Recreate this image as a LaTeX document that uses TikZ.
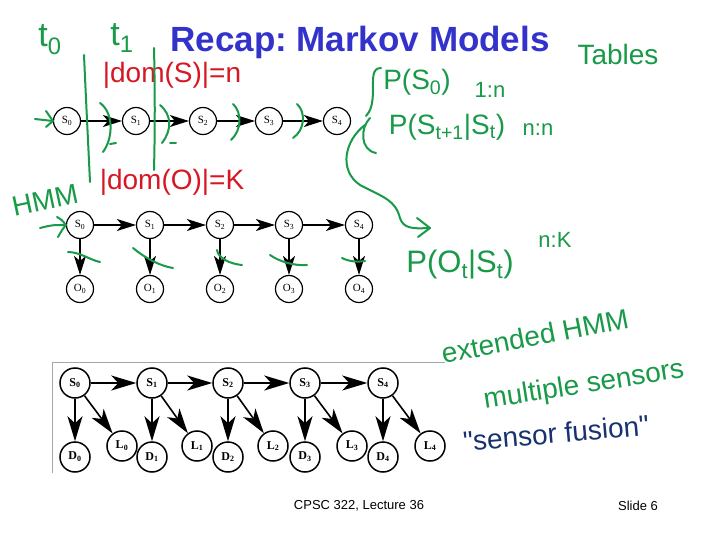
\documentclass[tikz,border=0pt]{standalone}
\usepackage{fontspec}
\setmainfont{Liberation Serif}
\newfontfamily\arialf{Liberation Sans}
\newfontfamily\handf{Liberation Sans}
\usetikzlibrary{arrows.meta}
\definecolor{titleblue}{RGB}{51,51,204}
\definecolor{hgreen}{RGB}{24,154,72}
\definecolor{hred}{RGB}{214,24,36}
\definecolor{hnavy}{RGB}{24,50,110}
\frenchspacing
\begin{document}
\begin{tikzpicture}[x=1pt,y=-1pt,
  snode/.style={circle,draw,line width=1.2pt,minimum size=27pt,inner sep=0pt,font=\fontsize{11}{11}\selectfont},
  bnode/.style={circle,draw,line width=1.5pt,minimum size=30pt,inner sep=0pt,font=\bfseries\fontsize{12}{12}\selectfont},
  arr/.style={line width=1.2pt,-{Stealth[length=19pt,width=12pt,inset=5pt]}},
  barr/.style={line width=1.6pt,-{Stealth[length=25pt,width=15pt,inset=7pt]}},
  ink/.style={hgreen,line width=2pt,line cap=round,line join=round},
  hand/.style={inner sep=0pt,font=\handf\fontsize{28}{28}\selectfont},
  handS/.style={inner sep=0pt,font=\handf\fontsize{22}{22}\selectfont},
]
\useasboundingbox[fill=white] (0,0) rectangle (720,540);

% title and footer
\node[font=\arialf\bfseries\fontsize{35}{35}\selectfont,text=titleblue,anchor=base] (title) at (360,52) {Recap: Markov Models};
\node[font=\arialf\fontsize{13}{13}\selectfont] (foot) at (359,506) {CPSC 322, Lecture 36};
\node[font=\arialf\fontsize{13}{13}\selectfont] (slide) at (638,506) {Slide 6};

% Markov chain
\foreach \i/\x in {0/67,1/136,2/203,3/269,4/337}
  \node[snode] (a\i) at (\x,121) {S\textsubscript{\i}};
\foreach \i/\j in {0/1,1/2,2/3,3/4}
  \draw[arr] (a\i) -- (a\j);

% HMM
\foreach \i/\x in {0/80,1/150,2/220,3/289,4/359}{
  \node[snode] (b\i) at (\x,225) {S\textsubscript{\i}};
  \node[snode] (o\i) at (\x,289) {O\textsubscript{\i}};
  \draw[arr] (b\i) -- (o\i);
}
\foreach \i/\j in {0/1,1/2,2/3,3/4}
  \draw[arr] (b\i) -- (b\j);

% extended HMM
\draw[gray!70,line width=0.6pt] (445,362) -- (52,362) -- (52,473);
\foreach \i/\x/\l in {0/75/122,1/152/197,2/228/273,3/305/352,4/383/430}{
  \node[bnode] (c\i) at (\x,383) {S\textsubscript{\i}};
  \node[bnode] (d\i) at (\x,457) {D\textsubscript{\i}};
  \node[bnode] (l\i) at (\l,446) {L\textsubscript{\i}};
  \draw[barr] (c\i) -- (d\i);
  \draw[barr] (c\i) -- (l\i);
}
\foreach \i/\j in {0/1,1/2,2/3,3/4}
  \draw[barr] (c\i) -- (c\j);

% handwritten annotations
\node[inner sep=0pt,font=\handf\fontsize{34}{34}\selectfont,text=hgreen] (t0) at (50,40) {t\textsubscript{0}};
\node[inner sep=0pt,font=\handf\fontsize{34}{34}\selectfont,text=hgreen] (t1) at (122,38) {t\textsubscript{1}};
\node[hand,text=hred] (domS) at (172,75) {|dom(S)|=n};
\node[hand,text=hred] (domO) at (172,182) {|dom(O)|=K};
\node[hand,text=hgreen,rotate=12] (hmm) at (45,200) {HMM};
\node[hand,text=hgreen] (tables) at (618,54) {Tables};
\node[hand,text=hgreen] (ps0) at (417,82) {P(S\textsubscript{0})};
\node[handS,text=hgreen] (r1) at (490,90) {1:n};
\node[hand,text=hgreen] (pst) at (447,127) {P(S\textsubscript{t+1}|S\textsubscript{t})};
\node[handS,text=hgreen] (r2) at (538,130) {n:n};
\node[inner sep=0pt,font=\handf\fontsize{31}{31}\selectfont,text=hgreen] (pot) at (460,265) {P(O\textsubscript{t}|S\textsubscript{t})};
\node[handS,text=hgreen] (r3) at (555,240) {n:K};
\node[hand,text=hgreen,rotate=11] (ext) at (535,336) {extended HMM};
\node[hand,text=hgreen,rotate=9] (mult) at (584,386) {multiple sensors};
\node[hand,text=hnavy,rotate=5] (fus) at (556,433) {"sensor fusion"};

% time slice lines
\draw[ink] (84,55) .. controls (86,100) and (88,140) .. (90,182);
\draw[ink] (154,48) .. controls (155,90) and (155,130) .. (154,170);
% marks on chain arrows
\draw[ink] (100,103) .. controls (113,112) and (114,137) .. (103,152);
\draw[ink] (110,144) -- (116,143);
\draw[ink] (160,105) .. controls (172,115) and (172,130) .. (162,143);
\draw[ink] (170,143) -- (176,143);
\draw[ink] (233,104) .. controls (242,112) and (242,130) .. (231,140);
\draw[ink] (297,104) .. controls (306,112) and (305,130) .. (293,138);
% start arrows
\coordinate (sa) at (35,119);
\draw[ink] (sa) -- (a0.west);
\draw[ink] (46,111) -- (a0.west) -- (46,127);
\coordinate (sb) at (40,228);
\draw[ink] (sb) .. controls (52,225) .. (b0.west);
\draw[ink] (57,217) .. controls (62,220) .. (b0.west) .. controls (62,230) .. (58,237);
% ticks on emission arrows
\draw[ink] (68,252) .. controls (80,252) and (90,260) .. (100,262);
\draw[ink] (133,248) .. controls (145,258) and (160,266) .. (173,268);
\draw[ink] (217,250) .. controls (218,258) and (230,264) .. (242,265);
\draw[ink] (270,255) .. controls (280,262) and (295,266) .. (307,265);
\draw[ink] (342,258) .. controls (350,262) and (358,262) .. (365,261);
% braces and long arrow
\draw[ink] (381,68) .. controls (372,68) and (373,78) .. (373,90) .. controls (373,105) and (370,112) .. (366,116);
\draw[ink] (370,118) .. controls (360,128) and (360,150) .. (376,153);
\draw[ink] (365,125) .. controls (345,140) and (338,170) .. (360,185) .. controls (385,198) and (395,200) .. (400,218) .. controls (403,228) and (412,229) .. (428,228);
\draw[ink] (417,218) -- (430,228) -- (418,237);
\end{tikzpicture}
\end{document}
